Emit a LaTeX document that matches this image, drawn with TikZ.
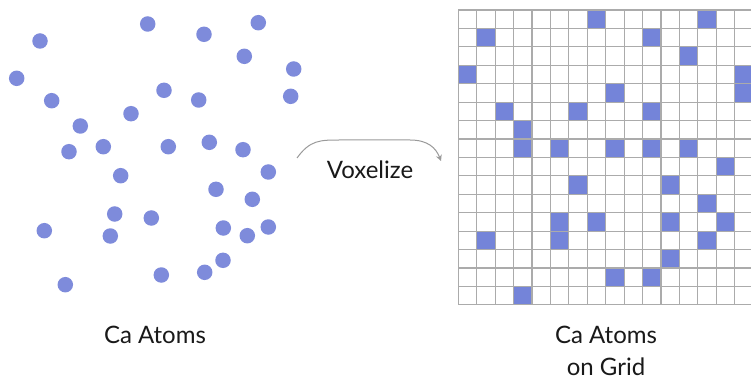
\documentclass[tikz,border=0pt]{standalone}
\usepackage{fontspec}
\setmainfont{Lato}
\usetikzlibrary{arrows.meta}
\definecolor{atomblue}{HTML}{7E8BDB}
\definecolor{voxblue}{HTML}{7484D9}
\definecolor{gridgray}{HTML}{ABABAB}
\definecolor{arrowgray}{HTML}{9A9A9A}
\tikzset{
  atom/.style={circle, fill=atomblue, draw=none, inner sep=0pt, minimum size=15.5pt},
  voxel/.style={fill=voxblue, draw=none},
  caption/.style={font=\fontsize{24}{28}\selectfont, text=black!90, inner sep=0pt, anchor=base},
  flow/.style={draw=arrowgray, line width=1pt, -{Stealth[length=6pt,width=6pt]}}
}
\newcommand{\cellw}{18.43}
\begin{document}
\begin{tikzpicture}[x=1pt,y=-1pt]
  \clip (0,0) rectangle (751,379);
  \fill[white] (0,0) rectangle (751,379);

  % scattered atoms
  \foreach \px/\py [count=\i] in {
    147.7/24, 40/41, 204/34.3, 258.3/22.7, 244.3/56.3, 293.7/69, 16.7/78.3,
    51.7/100.7, 164/90.3, 198.7/100, 290.7/96.3, 131/113.7, 80.3/126,
    69/151.7, 103.3/146.7, 168.3/146.7, 209.3/142.3, 243/149.7, 268.3/172,
    120.7/175.7, 216/189.3, 252.3/199.3, 114.7/214, 151.3/218, 44.3/230.7,
    110.3/236, 223.3/228, 247.3/235.7, 268.3/227, 223/260.3, 204.7/272.3,
    161.3/275, 65.3/284.7}
    \node[atom] (atom\i) at (\px,\py) {};

  % occupied voxels (column/row)
  \begin{scope}[shift={(458.3,10)}]
    \foreach \c/\r in {7/0, 13/0, 1/1, 10/1, 12/2, 0/3, 15/3, 8/4, 15/4,
      2/5, 6/5, 10/5, 3/6, 3/7, 5/7, 8/7, 10/7, 12/7, 14/8, 6/9, 11/9,
      13/10, 5/11, 7/11, 11/11, 14/11, 1/12, 5/12, 13/12, 11/13, 8/14,
      10/14, 3/15}
      \fill[voxel] (\c*\cellw,\r*\cellw) rectangle ++(\cellw,\cellw);
    % grid lines
    \foreach \k in {0,...,16} {
      \draw[gridgray, line width=1.1pt] (\k*\cellw,0) -- (\k*\cellw,16*\cellw);
      \draw[gridgray, line width=1.1pt] (0,\k*\cellw) -- (16*\cellw,\k*\cellw);
    }
  \end{scope}

  % transformation arrow
  \coordinate (src) at (297,158);
  \coordinate (dst) at (441,161);
  \draw[flow] (src) .. controls (310,140) and (320,140) .. (340,140)
    -- (410,140) .. controls (428,140) and (436,148) .. (dst);
  \node[caption] (voxlabel) at (370,178.3) {Voxelize};

  % captions
  \node[caption] (leftlabel) at (155,343.3) {Ca Atoms};
  \node[caption] (rightlabel) at (606,343.3) {Ca Atoms};
  \node[caption] (gridlabel) at (606,375) {on Grid};
\end{tikzpicture}
\end{document}
